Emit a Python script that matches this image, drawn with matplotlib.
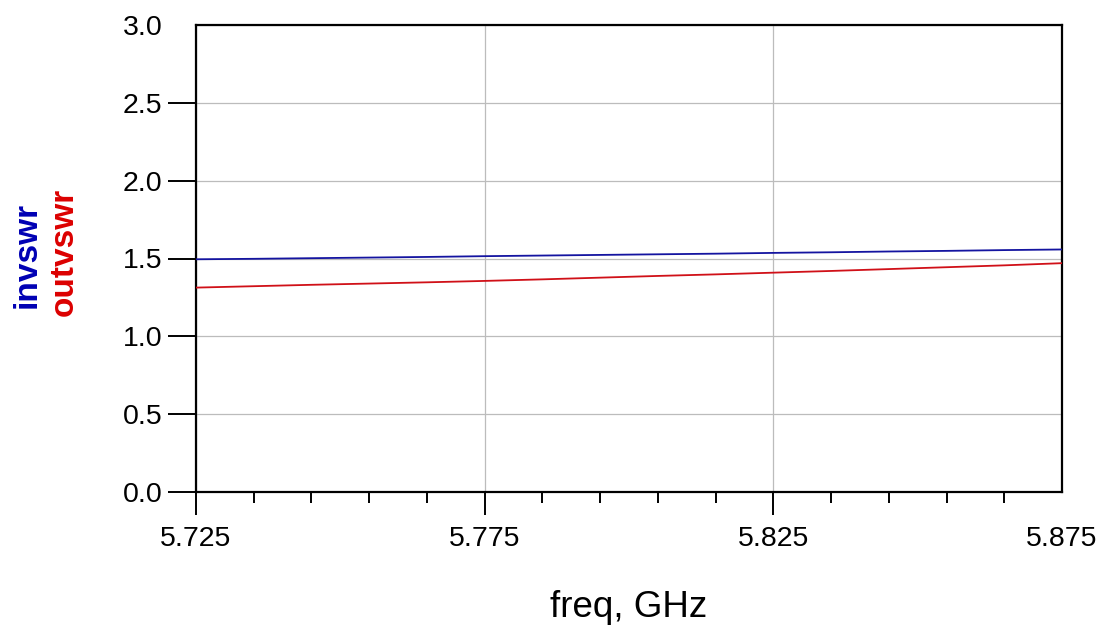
import matplotlib
matplotlib.use("Agg")
import matplotlib.pyplot as plt

# Frequency sweep (GHz) and VSWR readings at input/output ports
freq = [5.725, 5.735, 5.745, 5.755, 5.765, 5.775, 5.785, 5.795,
        5.805, 5.815, 5.825, 5.835, 5.845, 5.855, 5.865, 5.875]
invswr = [1.495, 1.498, 1.502, 1.506, 1.510, 1.515, 1.519, 1.523,
          1.527, 1.531, 1.536, 1.540, 1.545, 1.549, 1.554, 1.558]
outvswr = [1.313, 1.322, 1.331, 1.339, 1.347, 1.356, 1.366, 1.377,
           1.388, 1.398, 1.409, 1.420, 1.432, 1.444, 1.456, 1.470]

x_major = [5.725, 5.775, 5.825, 5.875]
x_major_labels = ["5.725", "5.775", "5.825", "5.875"]
x_minor = [5.735, 5.745, 5.755, 5.765, 5.785, 5.795, 5.805, 5.815,
           5.835, 5.845, 5.855, 5.865]
y_major = [0.0, 0.5, 1.0, 1.5, 2.0, 2.5, 3.0]
y_major_labels = ["0.0", "0.5", "1.0", "1.5", "2.0", "2.5", "3.0"]

plt.rcParams["font.family"] = ["Liberation Sans", "DejaVu Sans"]

fig = plt.figure(figsize=(11.10, 6.33), dpi=100)
fig.patch.set_facecolor("white")
ax = fig.add_axes([196 / 1110, 1 - 492 / 633, (1062 - 196) / 1110, (492 - 25) / 633])

ax.plot(freq, invswr, color="#1414a0", lw=1.3, zorder=3)
ax.plot(freq, outvswr, color="#d01018", lw=1.3, zorder=3)

ax.set_xlim(5.725, 5.875)
ax.set_ylim(0.0, 3.0)

ax.set_xticks(x_major)
ax.set_xticklabels(x_major_labels)
ax.set_xticks(x_minor, minor=True)
ax.set_yticks(y_major)
ax.set_yticklabels(y_major_labels)

ax.grid(True, which="major", color="#bcbcbc", lw=0.9, zorder=1)
ax.tick_params(axis="x", which="major", direction="out", length=16.5, width=1.4,
               pad=8, labelsize=20.5, colors="black")
ax.tick_params(axis="x", which="minor", direction="out", length=8, width=1.4)
ax.tick_params(axis="y", which="major", direction="out", length=20.5, width=1.4,
               pad=3.5, labelsize=20.5, colors="black")

# no outer tick marks at the top/right ends of the frame
ax.yaxis.get_major_ticks()[-1].tick1line.set_visible(False)
ax.xaxis.get_major_ticks()[-1].tick1line.set_visible(False)

for s in ax.spines.values():
    s.set_linewidth(1.6)
    s.set_color("black")

fig.text(628.5 / 1110, 1 - 617 / 633, "freq, GHz", ha="center", va="baseline",
         fontsize=26.5, color="black")
fig.text(27 / 1110, 1 - 255 / 633, "invswr", rotation=90, ha="center", va="center",
         fontsize=24, fontweight="bold", color="#0000b4")
fig.text(64 / 1110, 1 - 252 / 633, "outvswr", rotation=90, ha="center", va="center",
         fontsize=24, fontweight="bold", color="#dc0000")

fig.savefig("out.png", dpi=100, facecolor="white")
